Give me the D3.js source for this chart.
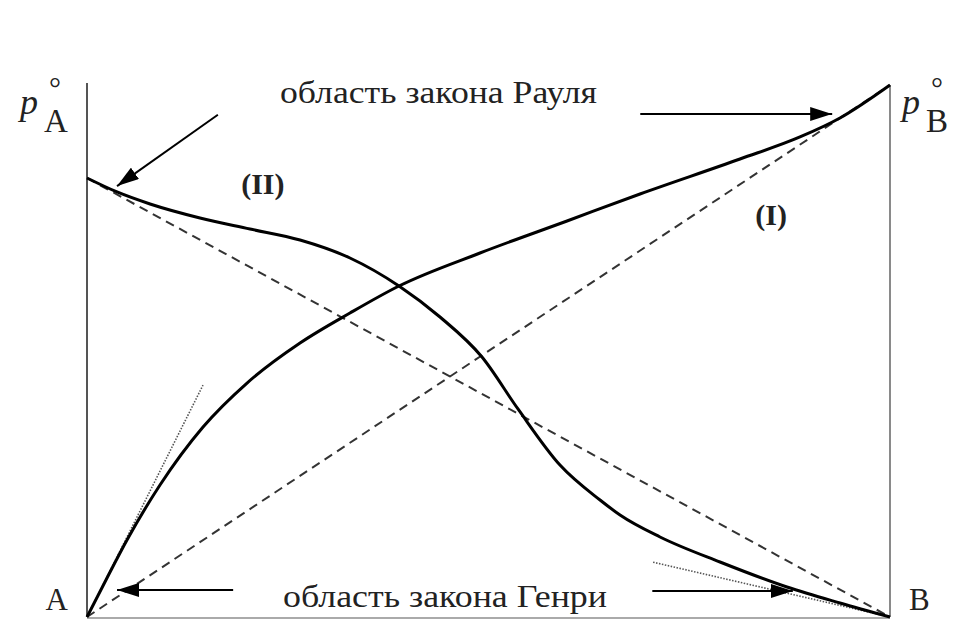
<!DOCTYPE html>
<html>
<head>
<meta charset="utf-8">
<script src="https://cdn.jsdelivr.net/npm/d3@7"></script>
<style>
  html, body { margin: 0; padding: 0; background: #fff; }
  text { font-family: "Liberation Serif", "Times New Roman", serif; fill: #222; }
</style>
</head>
<body>
<svg id="chart"></svg>
<script>
// mole fraction of B (0 = pure A, 1 = pure B), pressure as fraction of p°B
const curveB = [
  [0, 0], [0.0249, 0.0733], [0.0498, 0.1447], [0.0909, 0.2481], [0.1445, 0.3571],
  [0.1993, 0.4398], [0.2653, 0.515], [0.3275, 0.5714], [0.3885, 0.6222],
  [0.4894, 0.6842], [0.5978, 0.7444], [0.6887, 0.7951], [0.8132, 0.8609],
  [0.8879, 0.9023], [0.9377, 0.938], [1, 1]
];
const curveA = [
  [0, 0.8252], [0.0374, 0.7989], [0.0785, 0.7763], [0.1407, 0.75], [0.203, 0.7293],
  [0.2653, 0.7086], [0.3275, 0.6748], [0.3885, 0.6222], [0.4396, 0.5639],
  [0.4919, 0.4887], [0.5367, 0.391], [0.589, 0.2857], [0.6389, 0.2199],
  [0.6638, 0.1917], [0.7136, 0.1504], [0.7883, 0.1034], [0.8717, 0.0564],
  [0.9377, 0.0263], [1, 0]
];
const idealB = [[0, 0], [1, 1]];
const idealA = [[0, 0.825], [1, 0]];
const henryB = [[0, 0], [0.1445, 0.436]];
const henryA = [[0.705, 0.103], [1, 0]];

// annotation arrows: [from, to]
const arrows = [
  [[0.163, 0.944], [0.0374, 0.81]],
  [[0.689, 0.9455], [0.928, 0.9455]],
  [[0.182, 0.0508], [0.0374, 0.0508]],
  [[0.704, 0.049], [0.879, 0.049]]
];
const raoultLabel = 'область закона Рауля';
const henryLabel = 'область закона Генри';
const curveLabels = [
  { text: '(II)', x: 0.219, y: 0.795 },
  { text: '(I)', x: 0.852, y: 0.737 }
];

const width = 955, height = 620;
const margin = { top: 85, right: 65, bottom: 3, left: 87 };

const svg = d3.select('#chart')
  .attr('width', width)
  .attr('height', height);

const x = d3.scaleLinear().domain([0, 1]).range([margin.left, width - margin.right]);
const y = d3.scaleLinear().domain([0, 1]).range([height - margin.bottom, margin.top]);

// frame: left, right and bottom
svg.append('line')
  .attr('x1', x(0)).attr('x2', x(0))
  .attr('y1', y(1) - 2).attr('y2', y(0))
  .attr('stroke', '#555').attr('stroke-width', 2);
svg.append('line')
  .attr('x1', x(1)).attr('x2', x(1))
  .attr('y1', y(1)).attr('y2', y(0))
  .attr('stroke', '#8a8a8a').attr('stroke-width', 2);
svg.append('line')
  .attr('x1', x(0)).attr('x2', x(1))
  .attr('y1', y(0) + 1).attr('y2', y(0) + 1)
  .attr('stroke', '#aaa').attr('stroke-width', 2);

const line = d3.line().x(d => x(d[0])).y(d => y(d[1]));
const smooth = d3.line().x(d => x(d[0])).y(d => y(d[1])).curve(d3.curveMonotoneX);

// ideal (dashed) lines
[idealB, idealA].forEach(d => {
  svg.append('path')
    .attr('d', line(d))
    .attr('fill', 'none')
    .attr('stroke', '#333')
    .attr('stroke-width', 2)
    .attr('stroke-dasharray', '9,6');
});

// Henry tangents (dotted)
[henryB, henryA].forEach(d => {
  svg.append('path')
    .attr('d', line(d))
    .attr('fill', 'none')
    .attr('stroke', '#555')
    .attr('stroke-width', 1.6)
    .attr('stroke-dasharray', '1.5,1.5');
});

// real curves
[curveB, curveA].forEach(d => {
  svg.append('path')
    .attr('d', smooth(d))
    .attr('fill', 'none')
    .attr('stroke', '#000')
    .attr('stroke-width', 3);
});

// arrows
svg.append('defs').append('marker')
  .attr('id', 'head')
  .attr('viewBox', '0 0 22 14')
  .attr('refX', 22).attr('refY', 7)
  .attr('markerWidth', 22).attr('markerHeight', 14)
  .attr('markerUnits', 'userSpaceOnUse')
  .attr('orient', 'auto')
  .append('path')
  .attr('d', 'M0,0 L22,7 L0,14 Z')
  .attr('fill', '#000');

arrows.forEach(a => {
  svg.append('line')
    .attr('x1', x(a[0][0])).attr('y1', y(a[0][1]))
    .attr('x2', x(a[1][0])).attr('y2', y(a[1][1]))
    .attr('stroke', '#000')
    .attr('stroke-width', 2)
    .attr('marker-end', 'url(#head)');
});

// region labels
svg.append('text')
  .attr('x', 280).attr('y', 103)
  .attr('textLength', 317).attr('lengthAdjust', 'spacingAndGlyphs')
  .style('font-size', '31px')
  .text(raoultLabel);
svg.append('text')
  .attr('x', 283).attr('y', 607)
  .attr('textLength', 324).attr('lengthAdjust', 'spacingAndGlyphs')
  .style('font-size', '31px')
  .text(henryLabel);

curveLabels.forEach(l => {
  svg.append('text')
    .attr('x', x(l.x)).attr('y', y(l.y))
    .attr('text-anchor', 'middle')
    .style('font-size', '30px')
    .style('font-weight', 'bold')
    .text(l.text);
});

// component labels
function pLabel(px, sub) {
  const g = svg.append('g');
  g.append('text')
    .attr('x', px).attr('y', 114)
    .style('font-size', '36px')
    .style('font-style', 'italic')
    .text('p');
  g.append('text')
    .attr('x', px + 29).attr('y', 98)
    .style('font-size', '30px')
    .text('°');
  g.append('text')
    .attr('x', px + 24).attr('y', 132)
    .style('font-size', '33px')
    .text(sub);
}
pLabel(20, 'A');
pLabel(902, 'B');

svg.append('text')
  .attr('x', 68).attr('y', 610)
  .attr('text-anchor', 'end')
  .style('font-size', '31px')
  .text('A');
svg.append('text')
  .attr('x', 909).attr('y', 610)
  .style('font-size', '31px')
  .text('B');
</script>
</body>
</html>
